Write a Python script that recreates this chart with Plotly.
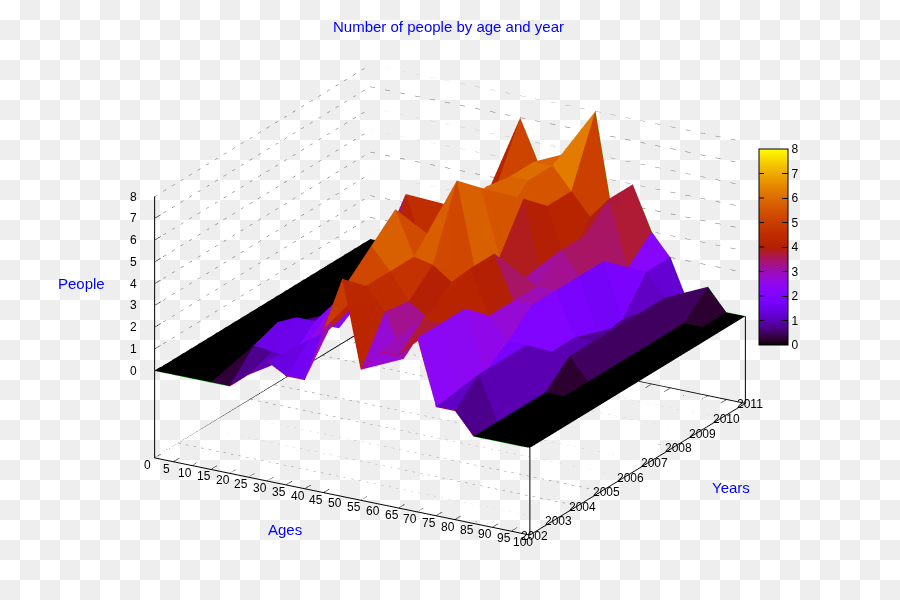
import plotly.graph_objects as go
import math

title_text = "Number of people by age and year"
ages = list(range(0, 101, 5))
years = list(range(2002, 2012))
age_ticks = ages
#             0 5 10 15 20  25  30 35  40  45  50 55  60  65  70 75  80 85 90 95 100
people_2002 = [0,0,0,0,0,0.7,1.5,1,1,3.5,6,2,3,3,4,1,1,0,0,0,0]
people_2003 = [0,0,0,0,1.2,1.1,1,2,2.6,5,5,4,2,4,4,.5,2,0,0,0,0]
people_2004 = [0,0,0,0,1.6,2,2,3,3,6,5,3.8,3.2,4.5,4,1.2,2,0,0,0,0]
people_2005 = [0,0,0,0,1,1,1,3,4,7,5,4.8,4.2,5,3,2,2,0,0,0,0]
people_2006 = [0,0,0,0,0,1,2,3,4,4.2,5,8,4,5,3,3,1,1,0,0,0]
people_2007 = [0,0,0,0,0,1,2,6,3.6,5,5.5,7,4,3,3,3,1,1,0,0,0]
people_2008 = [0,0,0,0,0,1,2,3.4,5,5,6.2,5,6,2.5,4,3,.3,1,0,0,0]
people_2009 = [0,0,0,0,0,1,2,3,4,5,6,6,5,2.5,4,3,.5,1,0,0,0]
people_2010 = [0,0,0,0,1,1,2,3,4.5,4,6,6,5,4,5,2,2,1,0,0,0]
people_2011 = [0,0,1,1,1,1,2,2,7,5,5,6,8,3,5,3,2,0,1,0,0]
people = [people_2002, people_2003, people_2004, people_2005, people_2006,
          people_2007, people_2008, people_2009, people_2010, people_2011]
z_floor = -4
z_top = 8
z_ticks = list(range(0, 9))

def palette(t):
    r = math.sqrt(t)
    g = t ** 3
    b = max(0.0, math.sin(2 * math.pi * t))
    return f"rgb({round(r*255)},{round(g*255)},{round(b*255)})"
colorscale = [[i / 64, palette(i / 64)] for i in range(65)]

nx, ny = len(ages), len(years)
vx, vy, vz, ti, tj, tk, cell = [], [], [], [], [], [], []
for j in range(ny):
    for i in range(nx):
        vx.append(ages[i]); vy.append(years[j]); vz.append(people[j][i])
for j in range(ny - 1):
    for i in range(nx - 1):
        a = j * nx + i; b = a + 1; c = a + nx; d = c + 1
        m = (people[j][i] + people[j][i+1] + people[j+1][i] + people[j+1][i+1]) / 4
        ti += [a, a]; tj += [b, d]; tk += [d, c]; cell += [m, m]

fig = go.Figure()
fig.add_trace(go.Mesh3d(
    x=vx, y=vy, z=vz, i=ti, j=tj, k=tk,
    intensity=cell, intensitymode="cell", colorscale=colorscale, cmin=0, cmax=8,
    flatshading=True, hoverinfo="skip",
    lighting=dict(ambient=1, diffuse=0, specular=0, fresnel=0, roughness=1),
    colorbar=dict(
        tickvals=z_ticks, ticks="inside", ticklen=6, tickcolor="black",
        thickness=29, thicknessmode="pixels", len=196, lenmode="pixels",
        x=759/900, xanchor="left", y=1-149/600, yanchor="top", ypad=0, xpad=0,
        outlinecolor="black", outlinewidth=1, borderwidth=0,
        tickfont=dict(family="Liberation Sans", size=12, color="black"),
    ),
))
a0, a1, y0, y1 = ages[0], ages[-1], years[0], years[-1]

def add_line(xs, ys, zs, color="black", width=2, dash="solid"):
    fig.add_trace(go.Scatter3d(x=xs, y=ys, z=zs, mode="lines",
                               line=dict(color=color, width=width, dash=dash),
                               showlegend=False, hoverinfo="skip"))

grid = dict(color="#707070", width=1, dash="dash")
for z in z_ticks:
    add_line([a0, a0, a1], [y0, y1, y1], [z, z, z], **grid)
for yr in years:
    add_line([a0, a1], [yr, yr], [z_floor, z_floor], **grid)
for xs, ys, zs in [
    ([a1, a1], [y0, y0], [z_floor, 0]),
    ([a1, a1], [y1, y1], [z_floor, 0]),
    ([a0, a0], [y0, y1], [z_floor, z_floor]),
    ([a0, a1], [y1, y1], [z_floor, z_floor]),
    ([a0, a0], [y0, y0], [z_floor, z_top]),
]:
    add_line(xs, ys, zs)
tick = dict(color="black", width=1)
for v in age_ticks:
    add_line([v, v], [y0, y0 + 0.25], [z_floor, z_floor], **tick)
    add_line([v, v], [y1, y1 - 0.25], [z_floor, z_floor], **tick)
for v in z_ticks:
    add_line([a0, a0], [y0, y0 + 0.25], [v, v], **tick)

# surface border: green over empty cells, red elsewhere, as in the reference
add_line(ages, [y1] * nx, people[-1], color="#00c000", width=1)
for i in range(nx - 1):
    flat = people[0][i] == 0 and people[0][i + 1] == 0
    add_line(ages[i:i + 2], [y0, y0], people[0][i:i + 2],
             color="#00c000" if flat else "#e00000", width=1)

# checkerboard backdrop of the page
path = ""
for row in range(30):
    for col in range(45):
        if (row + col) % 2 == 1:
            x0, x1 = col * 20 / 900, (col + 1) * 20 / 900
            yy0, yy1 = 1 - row * 20 / 600, 1 - (row + 1) * 20 / 600
            path += f"M{x0:.5f},{yy0:.5f}L{x1:.5f},{yy0:.5f}L{x1:.5f},{yy1:.5f}L{x0:.5f},{yy1:.5f}Z"

def ann(text, px, py):
    return dict(text=text, x=px / 900, y=1 - py / 600, xref="paper", yref="paper",
                showarrow=False, xanchor="center", yanchor="middle",
                font=dict(family="Liberation Sans", size=15, color="#0000ff"))

cbar_marks = [dict(text="", x=759.5 / 900, y=1 - (345 - v * 196 / 8) / 600, xref="paper", yref="paper",
                   showarrow=True, arrowhead=0, arrowwidth=1, arrowcolor="black",
                   axref="pixel", ayref="pixel", ax=6, ay=0, standoff=0)
              for v in z_ticks[1:-1]]

tick_font = dict(family="Liberation Sans", size=12, color="black")
scene_labels = []
for v in age_ticks:
    scene_labels.append(dict(x=v, y=y0, z=z_floor, text=str(v), showarrow=False,
                             xshift=-7, yshift=-7, font=tick_font))
for v in years:
    scene_labels.append(dict(x=a1, y=v, z=z_floor, text=str(v), showarrow=False,
                             xshift=5, yshift=-1, font=tick_font))
for v in z_ticks:
    scene_labels.append(dict(x=a0, y=y0, z=v, text=str(v), showarrow=False,
                             xshift=-21, yshift=0, font=tick_font))

axis = dict(
    showbackground=False, showline=True, linecolor="black", linewidth=2,
    ticks="", showspikes=False, zeroline=False,
    showticklabels=False, showgrid=False, title=dict(text=""),
)
D = 2
K = 1.446
fig.update_layout(
    width=900, height=600, margin=dict(l=0, r=0, t=0, b=0),
    paper_bgcolor="white", plot_bgcolor="rgba(0,0,0,0)", showlegend=False,
    shapes=[dict(type="path", path=path, xref="paper", yref="paper",
                 fillcolor="#eeeeee", line=dict(width=0), layer="below")],
    annotations=[ann(title_text, 448, 26), ann("People", 81, 283),
                 ann("Ages", 285, 529), ann("Years", 731, 487)] + cbar_marks,
    scene=dict(
        domain=dict(x=[0, 1], y=[0, 1]),
        bgcolor="rgba(0,0,0,0)",
        aspectmode="manual", aspectratio=dict(x=1*K, y=0.99*K, z=0.644*K),
        camera=dict(eye=dict(x=0.47*D, y=-0.81*D, z=0.355*D), up=dict(x=0, y=0, z=1),
                    center=dict(x=0, y=0, z=0), projection=dict(type="orthographic")),
        xaxis=dict(axis, range=[a0, a1], tickvals=age_ticks),
        yaxis=dict(axis, range=[y0, y1], tickvals=years),
        zaxis=dict(axis, range=[z_floor, z_top], tickvals=z_ticks),
        annotations=scene_labels,
    ),
)
fig.write_html("out.html", config={"displayModeBar": False},
               post_script="document.body.style.margin='0';")
